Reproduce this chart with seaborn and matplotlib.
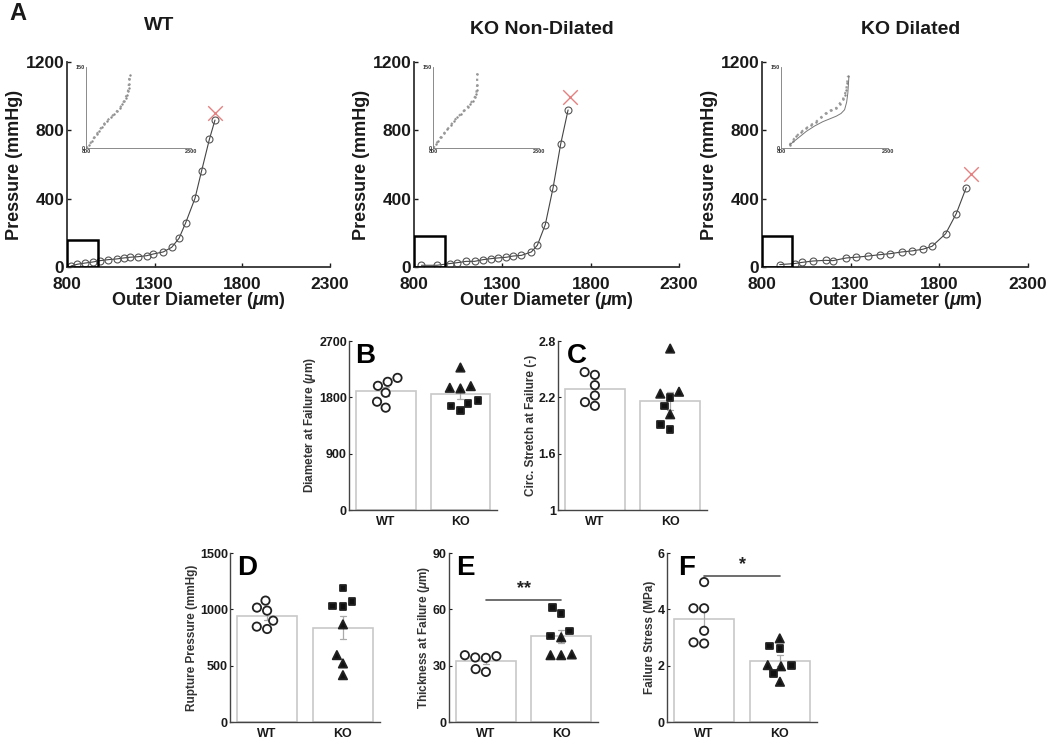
import numpy as np
import pandas as pd
import matplotlib
matplotlib.use("Agg")
import matplotlib.pyplot as plt
import seaborn as sns
from matplotlib.markers import MarkerStyle
from matplotlib.patches import Rectangle
from matplotlib.transforms import Affine2D

# ---- Panel A: pressure vs outer diameter ----
wt_diam = [823, 859, 903, 946, 988, 1036, 1083, 1125, 1159, 1203, 1254, 1292,
           1349, 1397, 1439, 1477, 1530, 1568, 1612, 1644]
wt_press = [6, 16, 23, 29, 37, 43, 47, 53, 57, 60, 66, 76, 88, 115, 168, 259,
            402, 564, 747, 860]
wt_fail = [1644, 900]

knd_diam = [842, 930, 1002, 1043, 1096, 1143, 1191, 1238, 1275, 1323, 1360,
            1408, 1464, 1498, 1543, 1587, 1630, 1672]
knd_press = [10, 10, 20, 25, 33, 33, 43, 49, 53, 57, 64, 68, 88, 127, 248,
             463, 719, 919]
knd_fail = [1681, 993]

kd_diam = [900, 984, 1026, 1088, 1159, 1200, 1276, 1332, 1398, 1464, 1524,
           1589, 1646, 1708, 1759, 1836, 1896, 1952]
kd_press = [14, 20, 27, 35, 39, 37, 53, 57, 64, 72, 78, 88, 94, 104, 121, 195,
            313, 465]
kd_fail = [1980, 543]

# insets (0-150 mmHg loading cycles)
wt_in_diam = [800, 847, 880, 917, 950, 987, 1020, 1058, 1100, 1152, 1200, 1245,
              1285, 1316, 1340, 1362, 1380, 1395, 1405, 1409, 1415, 1419]
wt_in_press = [0, 6, 13, 20, 26, 32, 39, 45, 51, 57, 63, 69, 75, 81, 87, 93,
               99, 105, 112, 118, 127, 136]
knd_in_diam = [800, 833, 870, 905, 950, 1000, 1050, 1095, 1140, 1190, 1240,
               1286, 1320, 1357, 1385, 1405, 1415, 1419, 1420]
knd_in_press = [0, 7, 13, 20, 27, 35, 43, 51, 57, 63, 70, 76, 82, 88, 94, 100,
                108, 116, 138]
kd_in_diam = [917, 960, 1011, 1080, 1152, 1220, 1292, 1360, 1433, 1500, 1573,
              1620, 1667, 1695, 1714, 1728, 1737]
kd_in_press = [6, 14, 22, 30, 37, 43, 49, 57, 65, 70, 74, 82, 90, 99, 108, 120,
               133]
kd_in_fit_diam = [917, 1030, 1152, 1270, 1386, 1480, 1573, 1640, 1691, 1720,
                  1737, 1752]
kd_in_fit_press = [6, 18, 31, 41, 49, 54, 59, 64, 71, 85, 102, 133]

# black boxes marking the low pressure region (diameter, pressure upper corners)
wt_box = [977, 156]
knd_box = [977, 180]
kd_box = [971, 180]

# ---- Panels B-F: failure metrics, WT circles / KO triangles + squares ----
diam_wt = [1985, 2049, 2112, 1874, 1731, 1636]
diam_ko_tri = [2277, 1980, 1953, 1943]
diam_ko_sq = [1747, 1705, 1663, 1590]

stretch_wt = [2.44, 2.47, 2.33, 2.22, 2.15, 2.11]
stretch_ko_tri = [2.72, 2.26, 2.24, 2.02]
stretch_ko_sq = [2.20, 2.11, 1.91, 1.86]

rupt_wt = [1078, 989, 1016, 900, 826, 847]
rupt_ko_tri = [867, 594, 520, 416]
rupt_ko_sq = [1188, 1031, 1069, 1025]

thick_wt = [35.6, 34.4, 35.1, 34.2, 26.7, 28.2]
thick_ko_tri = [45.1, 35.6, 35.6, 36.0]
thick_ko_sq = [61.1, 57.9, 48.5, 45.8]

stress_wt = [4.97, 4.04, 4.04, 3.24, 2.83, 2.79]
stress_ko_tri = [2.97, 1.98, 2.02, 1.43]
stress_ko_sq = [2.61, 2.70, 1.72, 2.00]

groups = ["WT", "KO"]

sns.set_style("ticks")
plt.rcParams["font.family"] = ["Liberation Sans", "DejaVu Sans"]
plt.rcParams["font.weight"] = "bold"
plt.rcParams["axes.labelweight"] = "bold"
plt.rcParams["xtick.direction"] = "in"
plt.rcParams["ytick.direction"] = "in"
plt.rcParams["mathtext.fontset"] = "custom"
plt.rcParams["mathtext.it"] = "Liberation Sans:italic"
plt.rcParams["mathtext.rm"] = "Liberation Sans:bold"

fig = plt.figure(figsize=(10.5, 7.41), dpi=100)

ink = "#1a1a1a"


def curve_panel(rect, diam, press, fail, box, in_diam, in_press, fit=None):
    ax = fig.add_axes(rect)
    sns.lineplot(x=diam, y=press, ax=ax, color="#444444", linewidth=0.8,
                 marker="o", markersize=5, markerfacecolor="none",
                 markeredgecolor="#555555", markeredgewidth=0.8)
    sns.scatterplot(x=[fail[0]], y=[fail[1]], ax=ax, marker="x", s=110,
                    color="#e58080", linewidth=1.0)
    ax.add_patch(Rectangle((800, 0), box[0] - 800, box[1], fill=False,
                           edgecolor="black", linewidth=1.8, zorder=5))
    ax.set_xlim(800, 2300)
    ax.set_ylim(0, 1200)
    ax.set_xticks([800, 1300, 1800, 2300])
    ax.set_yticks([0, 400, 800, 1200])
    ax.tick_params(labelsize=12.5, length=3, width=1, colors=ink)
    ax.tick_params(axis="x", pad=7)
    ax.tick_params(axis="y", pad=2)
    ax.set_xlabel("Outer Diameter ($\\mu$m)", fontsize=13, labelpad=-1, color=ink)
    ax.set_ylabel("Pressure (mmHg)", fontsize=13, labelpad=2, color=ink)
    sns.despine(ax=ax)
    for s in ["left", "bottom"]:
        ax.spines[s].set_linewidth(1.3)
        ax.spines[s].set_color("#333333")

    ins = ax.inset_axes([0.073, 0.58, 0.40, 0.395])
    ins.set_facecolor("none")
    sns.lineplot(x=in_diam, y=in_press, ax=ins, color="#9a9a9a", linewidth=1.6,
                 linestyle=":", sort=False)
    sns.scatterplot(x=in_diam, y=in_press, ax=ins, color="#8a8a8a", s=3,
                    linewidth=0)
    if fit is not None:
        sns.lineplot(x=fit[0], y=fit[1], ax=ins, color="#777777", linewidth=0.7,
                     sort=False)
    ins.set_xlim(800, 2300)
    ins.set_ylim(0, 150)
    ins.set_xticks([800, 2300])
    ins.set_yticks([0, 150])
    ins.tick_params(labelsize=4, length=0, pad=1, colors="#333333")
    sns.despine(ax=ins)
    for s in ["left", "bottom"]:
        ins.spines[s].set_linewidth(0.6)
        ins.spines[s].set_color("#777777")
    return ax


curve_panel([0.0638, 0.6397, 0.2505, 0.2767], wt_diam, wt_press, wt_fail,
            wt_box, wt_in_diam, wt_in_press)
curve_panel([0.3943, 0.6397, 0.2524, 0.2767], knd_diam, knd_press, knd_fail,
            knd_box, knd_in_diam, knd_in_press)
curve_panel([0.7257, 0.6397, 0.2533, 0.2767], kd_diam, kd_press, kd_fail,
            kd_box, kd_in_diam, kd_in_press, fit=(kd_in_fit_diam, kd_in_fit_press))

fig.text(0.152, 0.966, "WT", fontsize=14, fontweight="bold", ha="center",
         va="center", color=ink)
fig.text(0.516, 0.960, "KO Non-Dilated", fontsize=14, fontweight="bold",
         ha="center", va="center", color=ink)
fig.text(0.867, 0.960, "KO Dilated", fontsize=14, fontweight="bold",
         ha="center", va="center", color=ink)
fig.text(0.009, 0.982, "A", fontsize=17, fontweight="bold", ha="left",
         va="center", color=ink)

marker_scale = {"o": 1.0, "^": 1.0, "s": 0.78}


def marker_path(m):
    ms = MarkerStyle(m)
    t = ms.get_transform() + Affine2D().scale(marker_scale[m])
    return ms.get_path().transformed(t)


def bar_panel(rect, wt, ko_tri, ko_sq, ylim, yticks, ylabel, letter, lx,
              sig=None):
    ax = fig.add_axes(rect)
    df = pd.DataFrame({
        "group": ["WT"] * len(wt) + ["KO"] * (len(ko_tri) + len(ko_sq)),
        "shape": ["o"] * len(wt) + ["^"] * len(ko_tri) + ["s"] * len(ko_sq),
        "value": wt + ko_tri + ko_sq,
    })
    sns.barplot(data=df, x="group", y="value", order=groups, errorbar="se",
                color="white", edgecolor="#c8c8c8", linewidth=1.2, width=0.8,
                capsize=0.08, err_kws={"color": "#aaaaaa", "linewidth": 0.9},
                ax=ax)
    n0 = len(ax.collections)
    sns.swarmplot(data=df, x="group", y="value", order=groups, hue="shape",
                  palette={"o": "white", "^": "#111111", "s": "#111111"},
                  size=6, edgecolor="#222222", linewidth=1.3, legend=False,
                  ax=ax, zorder=4)
    for coll in ax.collections[n0:]:
        pos = int(round(coll.get_offsets()[0][0]))
        shapes = df.loc[df["group"] == groups[pos], "shape"].tolist()
        coll.set_paths([marker_path(m) for m in shapes])

    ax.set_xlim(-0.49, 1.49)
    ax.set_ylim(*ylim)
    ax.set_yticks(yticks)
    ax.set_yticklabels([f"{t:g}" for t in yticks])
    ax.set_xlabel("")
    ax.set_ylabel(ylabel, fontsize=8.5, labelpad=1, color="#333333")
    ax.tick_params(labelsize=9, length=2.5, width=0.8, colors=ink, pad=1.5)
    ax.tick_params(axis="x", pad=4)
    sns.despine(ax=ax)
    for s in ["left", "bottom"]:
        ax.spines[s].set_linewidth(1.0)
        ax.spines[s].set_color("#444444")
    ax.text(lx, 0.99, letter, transform=ax.transAxes, fontsize=20,
            fontweight="bold", va="top", ha="left", color="black")
    if sig is not None:
        h, stars = sig
        ax.plot([0, 1], [h, h], color="#555555", linewidth=1.2)
        ax.annotate(stars, xy=(0.5, h), xytext=(0, 2), textcoords="offset points",
                    ha="center", va="bottom", fontsize=13, fontweight="bold",
                    color="#222222")
    return ax


bar_panel([0.3324, 0.3117, 0.141, 0.228], diam_wt, diam_ko_tri, diam_ko_sq,
          (0, 2700), [0, 900, 1800, 2700], "Diameter at Failure ($\\mu$m)", "B",
          0.04)
bar_panel([0.5314, 0.3117, 0.142, 0.228], stretch_wt, stretch_ko_tri,
          stretch_ko_sq, (1, 2.8), [1, 1.6, 2.2, 2.8],
          "Circ. Stretch at Failure (-)", "C", 0.06)
bar_panel([0.219, 0.0256, 0.143, 0.228], rupt_wt, rupt_ko_tri, rupt_ko_sq,
          (0, 1500), [0, 500, 1000, 1500], "Rupture Pressure (mmHg)", "D", 0.047)
bar_panel([0.4276, 0.0256, 0.142, 0.228], thick_wt, thick_ko_tri, thick_ko_sq,
          (0, 90), [0, 30, 60, 90], "Thickness at Failure ($\\mu$m)", "E", 0.05,
          sig=(65, "**"))
bar_panel([0.6352, 0.0256, 0.143, 0.228], stress_wt, stress_ko_tri,
          stress_ko_sq, (0, 6), [0, 2, 4, 6], "Failure Stress (MPa)", "F", 0.073,
          sig=(5.19, "*"))

fig.savefig("out.png", dpi=100)
